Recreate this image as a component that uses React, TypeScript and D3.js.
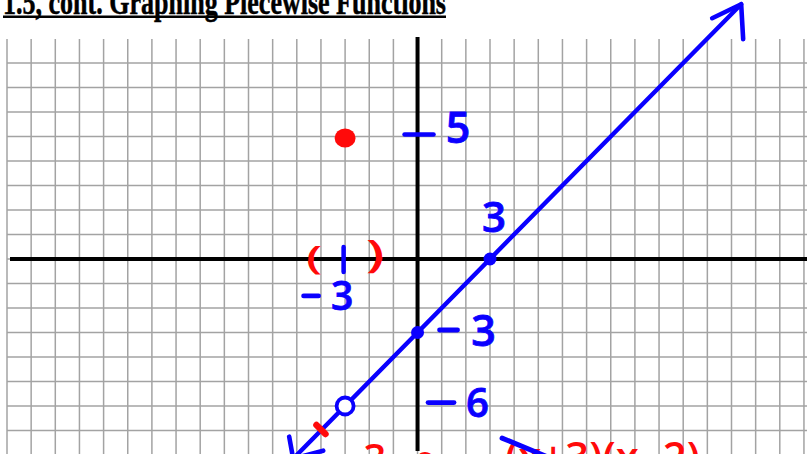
import React from "react";
import * as d3 from "d3";

// Graph-paper extent in grid units
const colUnits = d3.range(-17, 17); // vertical grid lines
const rowUnits = d3.range(-8, 9); // horizontal grid lines

// The ray y = x - 3, drawn between its two arrow tips
const rayPoints = [
  { x: -5.15, y: -8.15 },
  { x: 13.4, y: 10.4 },
];

// Closed points on the ray (x- and y-intercepts)
const closedPoints = [
  { x: 3, y: 0 },
  { x: 0, y: -3 },
];

// Hole in the ray and the point that replaces it
const openPoints = [{ x: -3, y: -6 }];
const redPoints = [{ x: -3, y: 5 }];

// Small red check mark on the ray
const redTicks = [{ x: -4, y: -7 }];

// Axis tick marks written by hand
const yTicks = [5];
const xTicks = [-3];

// Handwritten blue labels: [minus sign?, digit]
const blueLabels = [
  { minus: false, digit: "5", x: 0, y: 5 },
  { minus: false, digit: "3", x: 3, y: 0 },
  { minus: true, digit: "3", x: -3, y: 0 },
  { minus: true, digit: "3", x: 0, y: -3 },
  { minus: true, digit: "6", x: 0, y: -6 },
];

// Red work written below the graph
const redNotes = ["3", "0", "(x+3)(x−2)"];

const title = "1.5, cont. Graphing Piecewise Functions";

const W = 807;
const H = 454;

const x = d3.scaleLinear().domain([-17, 16]).range([7, 7 + 33 * 24.15]);
const y = d3.scaleLinear().domain([-8, 9]).range([455, 455 - 17 * 24.5]);

const BLUE = "#0a00ff";
const RED = "#ff0a0a";
const HAND = "'Open Sans', 'DejaVu Sans', sans-serif";

// Layout of each blue label relative to its anchor point (pixels)
const labelLayout = [
  { minusDx: 0, minusW: 0, digitDx: 40.5, dy: 6.5, size: 43 },
  { minusDx: 0, minusW: 0, digitDx: 4, dy: -27, size: 42 },
  { minusDx: -34, minusW: 15, digitDx: -3, dy: 51, size: 39 },
  { minusDx: 31, minusW: 18, digitDx: 66, dy: 13, size: 43 },
  { minusDx: 23.5, minusW: 26, digitDx: 60, dy: 11, size: 40 },
];

export default function App() {
  const x0 = x(0);
  const y0 = y(0);
  const lineGen = d3
    .line<{ x: number; y: number }>()
    .x((d) => x(d.x))
    .y((d) => y(d.y));

  const start = rayPoints[0];
  const end = rayPoints[rayPoints.length - 1];
  const sx = x(start.x);
  const sy = y(start.y);
  const ex = x(end.x);
  const ey = y(end.y);

  return (
    <svg
      width={W}
      height={H}
      viewBox={`0 0 ${W} ${H}`}
      style={{ position: "absolute", left: 0, top: 0, background: "#fff" }}
    >
      <rect x={0} y={0} width={W} height={H} fill="#fff" />

      {/* graph paper */}
      <g stroke="#a3a3a3" strokeWidth={1.5}>
        {colUnits.map((c) => (
          <line key={"c" + c} x1={x(c)} x2={x(c)} y1={39} y2={H} />
        ))}
        {rowUnits.map((r) => (
          <line key={"r" + r} x1={x(-17)} x2={W} y1={y(r)} y2={y(r)} />
        ))}
      </g>

      {/* title */}
      <text
        x={3}
        y={13.5}
        textLength={443}
        lengthAdjust="spacingAndGlyphs"
        fontFamily="'Liberation Serif', 'DejaVu Serif', serif"
        fontWeight={700}
        fontSize={35}
        fill="#000"
        stroke="#000"
        strokeWidth={0.5}
      >
        {title}
      </text>
      <line x1={3} x2={446} y1={16.8} y2={16.8} stroke="#000" strokeWidth={2.4} />

      {/* axes */}
      <g stroke="#000" strokeWidth={4}>
        <line x1={x0} x2={x0} y1={37} y2={451} />
        <line x1={10} x2={W} y1={y0} y2={y0} />
      </g>

      {/* hand-drawn axis ticks */}
      <g stroke={BLUE} strokeWidth={4.5} strokeLinecap="round">
        {yTicks.map((t) => (
          <line key={"yt" + t} x1={x0 - 13} x2={x0 + 16} y1={y(t) - 2} y2={y(t) - 2} />
        ))}
        {xTicks.map((t) => (
          <line key={"xt" + t} x1={x(t) - 1.5} x2={x(t) - 1.5} y1={y0 - 12} y2={y0 + 13} />
        ))}
      </g>

      {/* red parentheses around the x = -3 tick */}
      <g fill={RED} fontFamily={HAND} fontWeight={600} textAnchor="middle">
        <text transform={`translate(${x(-3) - 31},${y0 + 10}) scale(1.6,1)`} fontSize={32}>
          (
        </text>
        <text transform={`translate(${x(-3) + 30},${y0 + 8}) scale(1.6,1)`} fontSize={37}>
          )
        </text>
      </g>

      {/* the ray */}
      <path
        d={lineGen(rayPoints) || ""}
        fill="none"
        stroke={BLUE}
        strokeWidth={4.4}
        strokeLinecap="round"
      />
      {/* arrowheads */}
      <path
        d={`M${ex - 29},${ey + 14} L${ex},${ey} L${ex + 2},${ey + 35}`}
        fill="none"
        stroke={BLUE}
        strokeWidth={4.6}
        strokeLinecap="round"
        strokeLinejoin="round"
      />
      <path
        d={`M${sx - 4},${sy - 22} L${sx},${sy} L${sx + 30},${sy - 8}`}
        fill="none"
        stroke={BLUE}
        strokeWidth={4.6}
        strokeLinecap="round"
        strokeLinejoin="round"
      />

      {/* red check mark on the ray */}
      {redTicks.map((p, i) => (
        <line
          key={"rt" + i}
          x1={x(p.x) - 4.5}
          y1={y(p.y) - 4.5 - 1}
          x2={x(p.x) + 4.5}
          y2={y(p.y) + 4.5 - 1}
          stroke={RED}
          strokeWidth={6.5}
          strokeLinecap="round"
        />
      ))}

      {/* points */}
      {closedPoints.map((p, i) => (
        <circle key={"cp" + i} cx={x(p.x)} cy={y(p.y)} r={6.5} fill={BLUE} />
      ))}
      {openPoints.map((p, i) => (
        <circle
          key={"op" + i}
          cx={x(p.x)}
          cy={y(p.y)}
          r={8.5}
          fill="#fff"
          stroke={BLUE}
          strokeWidth={3.8}
        />
      ))}
      {redPoints.map((p, i) => (
        <ellipse key={"rp" + i} cx={x(p.x)} cy={y(p.y) + 1.5} rx={10.5} ry={9.5} fill={RED} />
      ))}

      {/* blue labels */}
      <g fill={BLUE} fontFamily={HAND} fontWeight={600} textAnchor="middle">
        {blueLabels.map((l, i) => {
          const lay = labelLayout[i];
          const ax = x(l.x);
          const ay = y(l.y);
          return (
            <g key={"bl" + i}>
              {l.minus && (
                <line
                  x1={ax + lay.minusDx - lay.minusW / 2}
                  x2={ax + lay.minusDx + lay.minusW / 2}
                  y1={ay + lay.dy - lay.size * 0.36}
                  y2={ay + lay.dy - lay.size * 0.36}
                  stroke={BLUE}
                  strokeWidth={4.8}
                  strokeLinecap="round"
                />
              )}
              <text
                x={ax + lay.digitDx}
                y={ay + lay.dy}
                fontSize={lay.size}
                stroke={BLUE}
                strokeWidth={0.8}
              >
                {l.digit}
              </text>
            </g>
          );
        })}
      </g>

      {/* work written below the graph */}
      <g fill={RED} fontFamily={HAND} fontWeight={600}>
        <text x={375} y={473} fontSize={40} textAnchor="middle">
          {redNotes[0]}
        </text>
        <text x={425} y={479} fontSize={38} textAnchor="middle">
          {redNotes[1]}
        </text>
        <text
          x={505}
          y={472}
          fontSize={42}
          textLength={195}
          lengthAdjust="spacingAndGlyphs"
        >
          {redNotes[2]}
        </text>
      </g>
      <line
        x1={x(3.5)}
        y1={y(-7.31)}
        x2={x(5.9)}
        y2={y(-8.29)}
        stroke={BLUE}
        strokeWidth={5}
        strokeLinecap="round"
      />
    </svg>
  );
}
